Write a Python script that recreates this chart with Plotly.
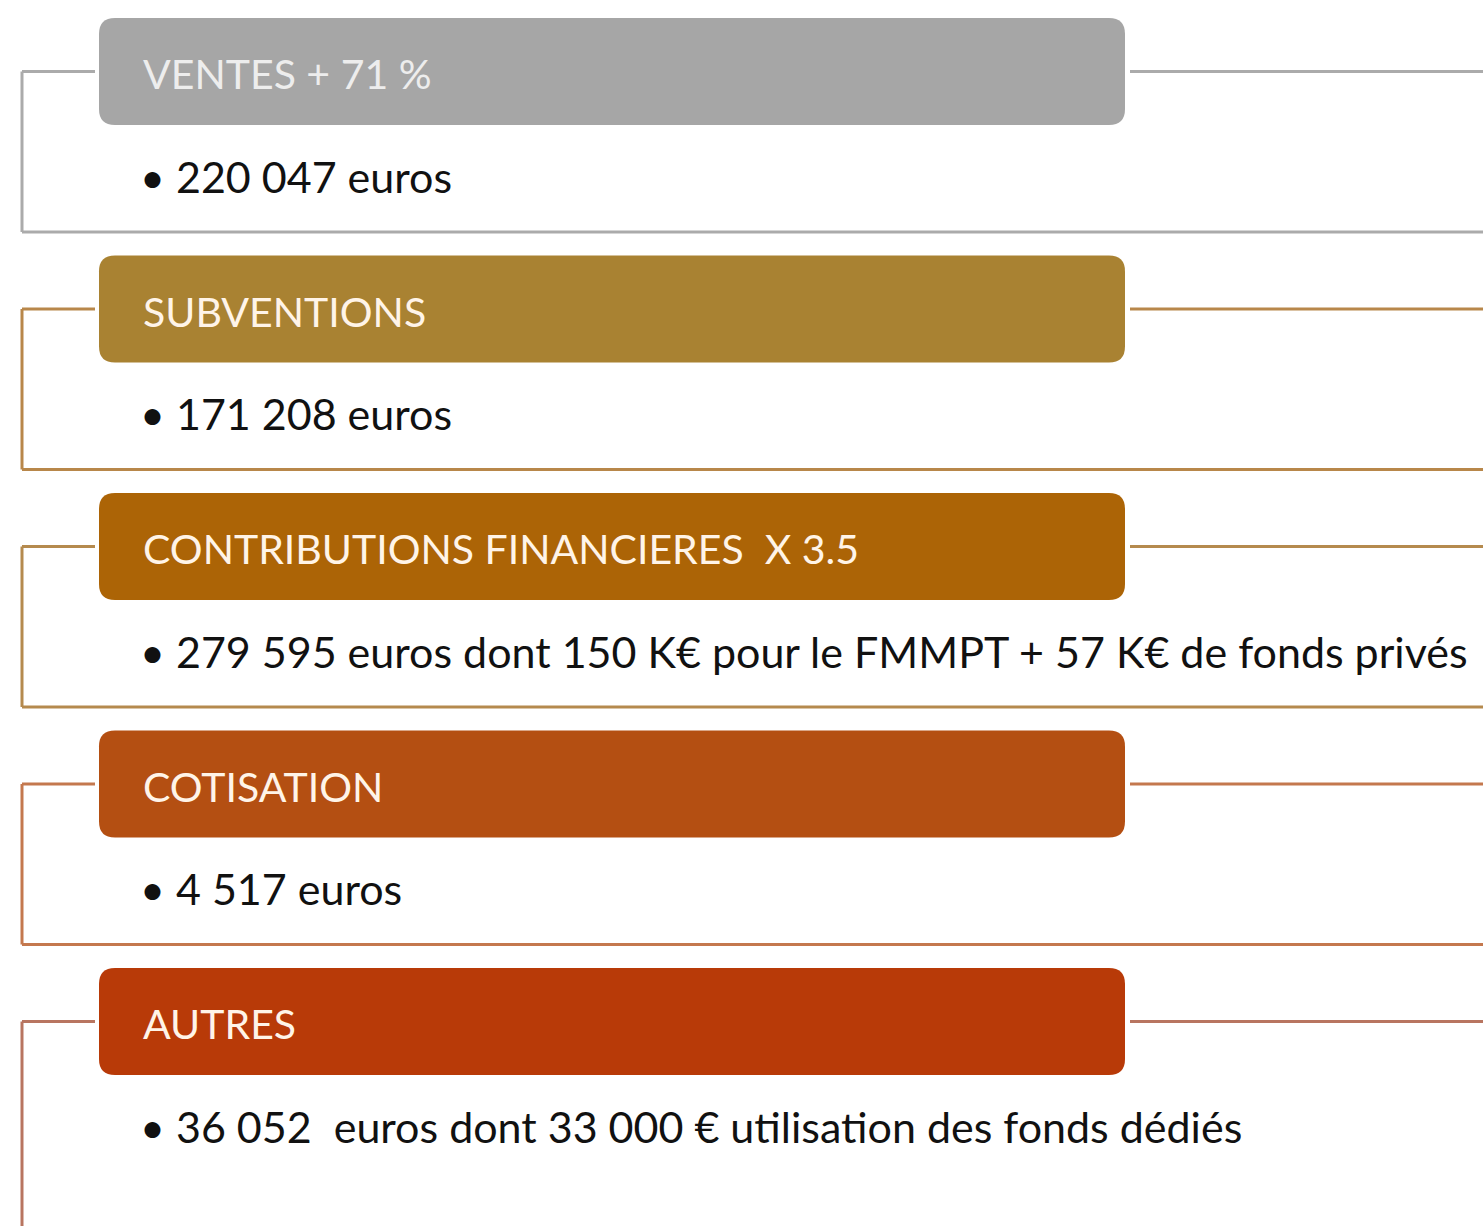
import plotly.graph_objects as go

# Data
categories = ["VENTES + 71 %", "SUBVENTIONS", "CONTRIBUTIONS FINANCIERES  X 3.5", "COTISATION", "AUTRES"]
details = [
    "• 220 047 euros",
    "• 171 208 euros",
    "• 279 595 euros dont 150 K€ pour le FMMPT + 57 K€ de fonds privés",
    "• 4 517 euros",
    "• 36 052  euros dont 33 000 € utilisation des fonds dédiés",
]
header_colors = ["#A6A6A6", "#A98232", "#AC6406", "#B44F12", "#B83A08"]
line_colors = ["#ABABAB", "#B8874A", "#B58A4E", "#C4784E", "#B87560"]

W, H = 1483, 1226
step = 237.5
top0 = 18
hdr_h = 107
x0, x1 = 99, 1125
r = 16
lx = 22

fig = go.Figure()
shapes = []
annotations = []

def rrect(xa, ya, xb, yb, rad):
    return (f"M {xa+rad},{ya} L {xb-rad},{ya} Q {xb},{ya} {xb},{ya+rad} "
            f"L {xb},{yb-rad} Q {xb},{yb} {xb-rad},{yb} L {xa+rad},{yb} "
            f"Q {xa},{yb} {xa},{yb-rad} L {xa},{ya+rad} Q {xa},{ya} {xa+rad},{ya} Z")

n = len(categories)
for i, (cat, det) in enumerate(zip(categories, details)):
    ty = top0 + i * step
    by = ty + hdr_h
    mid = ty + hdr_h / 2
    lc = line_colors[i]
    bottom = ty + 214 if i < n - 1 else H + 5
    # bracket lines
    shapes.append(dict(type="line", x0=lx, x1=x0 - 4, y0=mid, y1=mid, line=dict(color=lc, width=3)))
    shapes.append(dict(type="line", x0=lx, x1=lx, y0=mid, y1=bottom, line=dict(color=lc, width=3)))
    shapes.append(dict(type="line", x0=x1 + 5, x1=W + 5, y0=mid, y1=mid, line=dict(color=lc, width=3)))
    if i < n - 1:
        shapes.append(dict(type="line", x0=lx, x1=W + 5, y0=bottom, y1=bottom, line=dict(color=lc, width=3)))
    # header
    shapes.append(dict(type="path", path=rrect(x0, ty, x1, by, r), fillcolor=header_colors[i],
                       line=dict(width=0)))
    annotations.append(dict(x=141, y=mid + 2, text=cat, showarrow=False, xanchor="left", yanchor="middle",
                            font=dict(family="Lato", size=41, color="#FFF4E8" if i else "#EDEDED")))
    annotations.append(dict(x=138, y=ty + 158, text=det, showarrow=False, xanchor="left", yanchor="middle",
                            font=dict(family="Lato", size=43, color="#111111")))

fig.update_layout(
    width=W, height=H, margin=dict(l=0, r=0, t=0, b=0),
    paper_bgcolor="white", plot_bgcolor="white",
    xaxis=dict(range=[0, W], visible=False, fixedrange=True),
    yaxis=dict(range=[H, 0], visible=False, fixedrange=True),
    shapes=shapes, annotations=annotations, showlegend=False,
)
fig.write_html("out.html", config={"displayModeBar": False},
               post_script="document.body.style.margin='0';document.body.style.overflow='hidden';")
